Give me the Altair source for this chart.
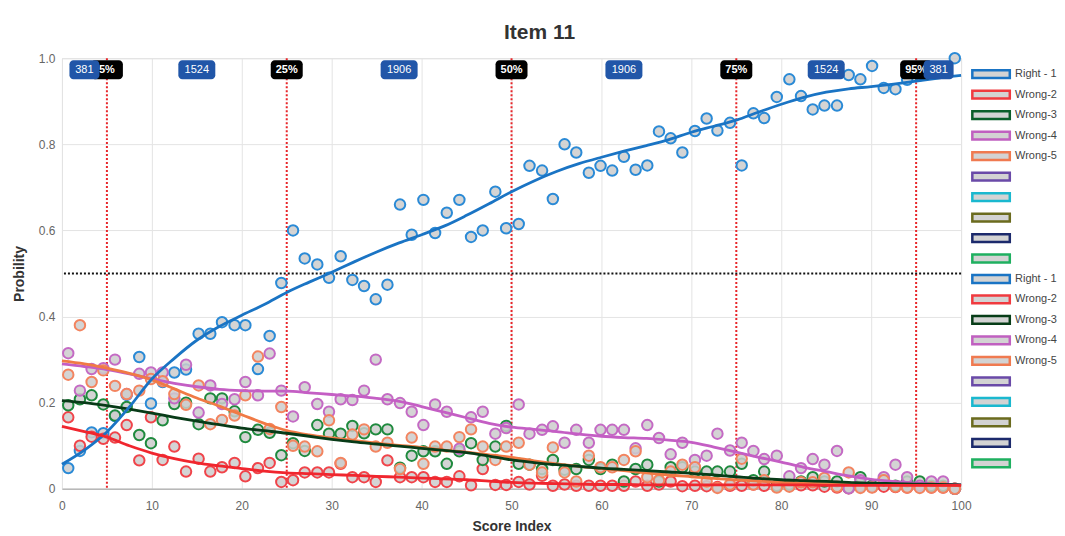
import altair as alt
import pandas as pd

# ---------------- data ----------------
X = [0.7, 2.0, 3.3, 4.6, 5.9, 7.2, 8.6, 9.9, 11.2, 12.5,
     13.8, 15.2, 16.5, 17.8, 19.2, 20.4, 21.8, 23.1, 24.4, 25.7,
     27.0, 28.4, 29.7, 31.0, 32.3, 33.6, 34.9, 36.2, 37.6, 38.9,
     40.2, 41.5, 42.8, 44.2, 45.5, 46.8, 48.2, 49.4, 50.8, 52.0,
     53.4, 54.6, 55.9, 57.2, 58.6, 59.9, 61.2, 62.5, 63.8, 65.1,
     66.4, 67.7, 69.0, 70.4, 71.7, 72.9, 74.3, 75.6, 76.9, 78.1,
     79.5, 80.9, 82.2, 83.5, 84.8, 86.2, 87.5, 88.8, 90.1, 91.4,
     92.7, 94.0, 95.4, 96.7, 98.0, 99.3]

RIGHT_1 = [0.048, 0.088, 0.131, 0.129, 0.169, 0.218, 0.306, 0.198, 0.248, 0.270,
           0.277, 0.360, 0.360, 0.387, 0.380, 0.380, 0.278, 0.355, 0.478, 0.600,
           0.535, 0.521, 0.490, 0.540, 0.485, 0.471, 0.440, 0.474, 0.660, 0.590,
           0.671, 0.594, 0.641, 0.671, 0.585, 0.600, 0.690, 0.605, 0.615, 0.750,
           0.739, 0.673, 0.800, 0.781, 0.734, 0.750, 0.739, 0.771, 0.741, 0.751,
           0.830, 0.814, 0.781, 0.831, 0.860, 0.832, 0.850, 0.751, 0.872, 0.861,
           0.910, 0.951, 0.912, 0.881, 0.890, 0.890, 0.961, 0.951, 0.982, 0.931,
           0.928, 0.950, 0.960, 0.970, 0.970, 1.000]

WRONG_2 = [0.166, 0.100, 0.121, 0.116, 0.119, 0.148, 0.066, 0.166, 0.067, 0.098,
           0.040, 0.070, 0.040, 0.050, 0.060, 0.029, 0.048, 0.060, 0.016, 0.020,
           0.038, 0.038, 0.038, 0.058, 0.027, 0.027, 0.016, 0.066, 0.027, 0.027,
           0.027, 0.016, 0.016, 0.029, 0.008, 0.046, 0.009, 0.009, 0.016, 0.010,
           0.030, 0.007, 0.010, 0.007, 0.007, 0.007, 0.007, 0.007, 0.017, 0.007,
           0.010, 0.017, 0.006, 0.007, 0.006, 0.004, 0.007, 0.007, 0.010, 0.007,
           0.007, 0.007, 0.008, 0.008, 0.005, 0.003, 0.001, 0.005, 0.004, 0.005,
           0.004, 0.003, 0.004, 0.003, 0.003, 0.000]

WRONG_3 = [0.194, 0.208, 0.217, 0.196, 0.170, 0.190, 0.125, 0.106, 0.159, 0.197,
           0.200, 0.150, 0.210, 0.210, 0.180, 0.120, 0.137, 0.130, 0.078, 0.106,
           0.088, 0.148, 0.128, 0.128, 0.146, 0.129, 0.138, 0.138, 0.049, 0.077,
           0.087, 0.087, 0.058, 0.087, 0.106, 0.067, 0.098, 0.146, 0.058, 0.056,
           0.046, 0.067, 0.044, 0.046, 0.067, 0.046, 0.056, 0.017, 0.046, 0.056,
           0.017, 0.050, 0.050, 0.040, 0.040, 0.040, 0.040, 0.058, 0.020, 0.040,
           0.007, 0.010, 0.017, 0.027, 0.017, 0.017, 0.002, 0.027, 0.007, 0.020,
           0.007, 0.017, 0.017, 0.007, 0.007, 0.000]

WRONG_4 = [0.315, 0.228, 0.278, 0.280, 0.300, 0.220, 0.267, 0.270, 0.270, 0.210,
           0.288, 0.177, 0.240, 0.197, 0.208, 0.248, 0.217, 0.314, 0.228, 0.168,
           0.236, 0.197, 0.179, 0.208, 0.206, 0.228, 0.300, 0.208, 0.199, 0.179,
           0.148, 0.196, 0.179, 0.093, 0.166, 0.179, 0.128, 0.141, 0.196, 0.128,
           0.137, 0.145, 0.107, 0.137, 0.107, 0.137, 0.137, 0.137, 0.094, 0.148,
           0.118, 0.080, 0.107, 0.067, 0.077, 0.128, 0.089, 0.107, 0.088, 0.069,
           0.077, 0.029, 0.048, 0.069, 0.056, 0.088, 0.001, 0.020, 0.004, 0.027,
           0.056, 0.027, 0.007, 0.017, 0.017, 0.000]

WRONG_5 = [0.265, 0.380, 0.248, 0.275, 0.239, 0.220, 0.228, 0.255, 0.250, 0.220,
           0.195, 0.240, 0.150, 0.160, 0.170, 0.217, 0.307, 0.139, 0.190, 0.100,
           0.098, 0.087, 0.159, 0.060, 0.126, 0.138, 0.098, 0.107, 0.046, 0.119,
           0.058, 0.098, 0.098, 0.120, 0.138, 0.098, 0.067, 0.098, 0.107, 0.056,
           0.038, 0.096, 0.038, 0.017, 0.077, 0.050, 0.050, 0.067, 0.087, 0.027,
           0.020, 0.040, 0.056, 0.050, 0.017, 0.002, 0.010, 0.070, 0.010, 0.020,
           0.003, 0.005, 0.015, 0.015, 0.025, 0.005, 0.038, 0.002, 0.003, 0.020,
           0.005, 0.003, 0.002, 0.003, 0.003, 0.000]

# smoothed curves
LINE_X = [0, 2.5, 5, 7.5, 10, 12.5, 15, 17.5, 20, 22.5,
          25, 27.5, 30, 32.5, 35, 37.5, 40, 42.5, 45, 47.5,
          50, 52.5, 55, 57.5, 60, 62.5, 65, 67.5, 70, 72.5,
          75, 77.5, 80, 82.5, 85, 87.5, 90, 92.5, 95, 97.5, 100]
LINE_RIGHT_1 = [0.057, 0.090, 0.132, 0.190, 0.255, 0.303, 0.345, 0.377, 0.403, 0.428,
                0.456, 0.480, 0.503, 0.527, 0.550, 0.571, 0.590, 0.610, 0.635, 0.662,
                0.690, 0.715, 0.737, 0.755, 0.770, 0.784, 0.797, 0.811, 0.828, 0.842,
                0.856, 0.875, 0.893, 0.909, 0.921, 0.929, 0.934, 0.940, 0.947, 0.954, 0.960]
LINE_WRONG_2 = [0.145, 0.133, 0.120, 0.100, 0.083, 0.070, 0.060, 0.053, 0.047, 0.041,
                0.037, 0.035, 0.033, 0.031, 0.029, 0.027, 0.025, 0.023, 0.021, 0.018,
                0.015, 0.013, 0.012, 0.011, 0.010, 0.010, 0.009, 0.009, 0.009, 0.009,
                0.009, 0.009, 0.009, 0.009, 0.008, 0.008, 0.008, 0.008, 0.008, 0.008, 0.008]
LINE_WRONG_3 = [0.205, 0.200, 0.193, 0.185, 0.176, 0.166, 0.157, 0.149, 0.141, 0.135,
                0.129, 0.122, 0.115, 0.109, 0.104, 0.099, 0.094, 0.089, 0.084, 0.076,
                0.067, 0.061, 0.056, 0.052, 0.048, 0.045, 0.042, 0.039, 0.036, 0.032,
                0.028, 0.024, 0.021, 0.019, 0.017, 0.015, 0.013, 0.012, 0.011, 0.010, 0.009]
LINE_WRONG_4 = [0.290, 0.284, 0.277, 0.267, 0.255, 0.245, 0.237, 0.231, 0.228, 0.227,
                0.227, 0.223, 0.219, 0.215, 0.210, 0.203, 0.191, 0.178, 0.165, 0.152,
                0.143, 0.138, 0.133, 0.127, 0.122, 0.119, 0.117, 0.113, 0.108, 0.097,
                0.085, 0.073, 0.062, 0.050, 0.040, 0.030, 0.022, 0.017, 0.013, 0.011, 0.009]
LINE_WRONG_5 = [0.297, 0.290, 0.280, 0.268, 0.253, 0.232, 0.211, 0.192, 0.172, 0.152,
                0.135, 0.125, 0.118, 0.112, 0.106, 0.101, 0.096, 0.090, 0.085, 0.079,
                0.073, 0.065, 0.058, 0.052, 0.047, 0.042, 0.037, 0.032, 0.028, 0.024,
                0.021, 0.018, 0.015, 0.013, 0.012, 0.011, 0.010, 0.009, 0.009, 0.008, 0.008]

SERIES = ["Right - 1", "Wrong-2", "Wrong-3", "Wrong-4", "Wrong-5"]
POINT_VALUES = [RIGHT_1, WRONG_2, WRONG_3, WRONG_4, WRONG_5]
LINE_VALUES = [LINE_RIGHT_1, LINE_WRONG_2, LINE_WRONG_3, LINE_WRONG_4, LINE_WRONG_5]
POINT_COLORS = ["#2a8ad6", "#f0444a", "#1f8a3e", "#c46ac4", "#f3845f"]
LINE_COLORS = ["#1a74c4", "#f0262e", "#083b18", "#c45ec4", "#f07a45"]
LINE_DRAW_ORDER = [3, 4, 2, 0, 1]

CUT_X = [5, 25, 50, 75, 95]
CUT_LABELS = ["5%", "25%", "50%", "75%", "95%"]
BAND_X = [2.5, 15, 37.5, 62.5, 85, 97.5]
BAND_COUNTS = ["381", "1524", "1906", "1906", "1524", "381"]
THRESHOLD = [0.5]
X_TICKS = [0, 10, 20, 30, 40, 50, 60, 70, 80, 90, 100]
Y_TICKS = [0, 0.2, 0.4, 0.6, 0.8, 1.0]

# legend entries: key "text|n" is shown as "text"; keys starting with "k" are blank
LEGEND_KEYS = ([s + "|a" for s in SERIES] + ["k6", "k7", "k8", "k9", "k10"]
               + [s + "|b" for s in SERIES] + ["k16", "k17", "k18", "k19", "k20"])
LEGEND_COLORS = ["#1a74c4", "#f03a3f", "#0b5e2a", "#c060c0", "#f07a50",
                 "#6a4aa8", "#1ab8cf", "#6b6b1e", "#1c2a6c", "#1fb060",
                 "#1a74c4", "#f03a3f", "#073d17", "#c060c0", "#f07a50",
                 "#6a4aa8", "#1ab8cf", "#6b6b1e", "#1c2a6c", "#1fb060"]

FONT = "Liberation Sans"

# ---------------- shared encodings ----------------
X_ENC = alt.X("x:Q",
              scale=alt.Scale(domain=[0, 100], nice=False, zero=False),
              axis=alt.Axis(values=X_TICKS, title="Score Index", titleFontSize=14,
                            titleFontWeight="bold", titleColor="#333", titleFont=FONT,
                            labelFont=FONT, labelFontSize=12, labelColor="#666",
                            labelFlush=False,
                            grid=True, gridColor="#e4e4e4", domainColor="#b8b8b8",
                            domainWidth=1.5, ticks=False, labelPadding=12, titlePadding=8))
Y_ENC = alt.Y("p:Q",
              scale=alt.Scale(domain=[0, 1], nice=False),
              axis=alt.Axis(values=Y_TICKS, title="Probility", titleFontSize=14,
                            titleFontWeight="bold", titleColor="#333", titleFont=FONT,
                            labelFont=FONT, labelFontSize=12, labelColor="#666",
                            labelFlush=False,
                            labelExpr="datum.value == 0 ? '0' : format(datum.value, '.1f')",
                            grid=True, gridColor="#e4e4e4", domain=False, ticks=False,
                            labelPadding=7, titlePadding=12))

layers = []

# vertical percentile lines and the 0.5 threshold
cut_df = pd.DataFrame({"x": CUT_X, "label": CUT_LABELS})
layers.append(alt.Chart(cut_df).mark_rule(color="#e8262a", strokeDash=[2, 2], strokeWidth=2)
              .encode(x=X_ENC))
thr_df = pd.DataFrame({"p": THRESHOLD})
layers.append(alt.Chart(thr_df).mark_rule(color="#111111", strokeDash=[2, 2], strokeWidth=2)
              .encode(y=Y_ENC))

# scatter points
for name, vals, col in zip(SERIES, POINT_VALUES, POINT_COLORS):
    df = pd.DataFrame({"x": X, "p": vals, "series": name})
    layers.append(alt.Chart(df).mark_point(filled=True, shape="circle", size=110,
                                           fill="#cdcdcd", fillOpacity=0.85,
                                           stroke=col, strokeWidth=2, opacity=1)
                  .encode(x=X_ENC, y=Y_ENC))

# smoothed lines
for i in LINE_DRAW_ORDER:
    df = pd.DataFrame({"x": LINE_X, "p": LINE_VALUES[i], "series": SERIES[i]})
    layers.append(alt.Chart(df).mark_line(color=LINE_COLORS[i], strokeWidth=2.8,
                                          interpolate="monotone")
                  .encode(x=X_ENC, y=Y_ENC))

# percentile tags (black) and band count tags (blue)
layers.append(alt.Chart(cut_df).mark_rect(color="#000000", cornerRadius=4,
                                          xOffset=-16, x2Offset=16)
              .encode(x=X_ENC, x2="x:Q", y=alt.value(2), y2=alt.value(21)))
layers.append(alt.Chart(cut_df).mark_text(color="white", fontSize=11, fontWeight="bold",
                                          font=FONT, baseline="middle")
              .encode(x=X_ENC, y=alt.value(12), text="label:N"))

band_df = pd.DataFrame({"x": BAND_X, "label": BAND_COUNTS})
layers.append(alt.Chart(band_df).transform_filter("length(datum.label) > 3")
              .mark_rect(color="#2156a8", cornerRadius=4, xOffset=-18.5, x2Offset=18.5)
              .encode(x=X_ENC, x2="x:Q", y=alt.value(2), y2=alt.value(21)))
layers.append(alt.Chart(band_df).transform_filter("length(datum.label) <= 3")
              .mark_rect(color="#2156a8", cornerRadius=4, xOffset=-15, x2Offset=15)
              .encode(x=X_ENC, x2="x:Q", y=alt.value(2), y2=alt.value(21)))
layers.append(alt.Chart(band_df).mark_text(color="white", fontSize=11, font=FONT,
                                           baseline="middle")
              .encode(x=X_ENC, y=alt.value(12), text="label:N"))

# legend (drawn from the colour scale only)
leg_df = pd.DataFrame({"key": LEGEND_KEYS})
layers.append(alt.Chart(leg_df).transform_filter("false")
              .mark_point(filled=True, fill="#d3d3d3", opacity=1)
              .encode(stroke=alt.Stroke("key:N",
                                        scale=alt.Scale(domain=LEGEND_KEYS, range=LEGEND_COLORS),
                                        legend=alt.Legend(
                                            title=None, orient="none", legendX=921, legendY=7,
                                            symbolType="M-2.5,-0.52H2.5V0.52H-2.5Z",
                                            symbolSize=225, symbolStrokeWidth=2.5,
                                            symbolFillColor="#d3d3d3", symbolOpacity=1,
                                            labelFont=FONT, labelFontSize=11,
                                            labelColor="#444", labelOffset=15,
                                            rowPadding=2.5, padding=0,
                                            labelExpr="indexof(datum.label, 'k') == 0 ? '' : split(datum.label, '|')[0]"))))

chart = (alt.layer(*layers)
         .properties(width=900, height=431,
                     title=alt.Title("Item 11", fontSize=21, fontWeight="bold", color="#333",
                                     font=FONT, anchor="middle", frame="group", dx=28, offset=6),
                     padding={"left": 4, "top": 13, "right": 0, "bottom": 0})
         .configure_view(stroke=None)
         .configure(font=FONT))

chart.save("out.html", embed_options={"renderer": "svg", "actions": False})
